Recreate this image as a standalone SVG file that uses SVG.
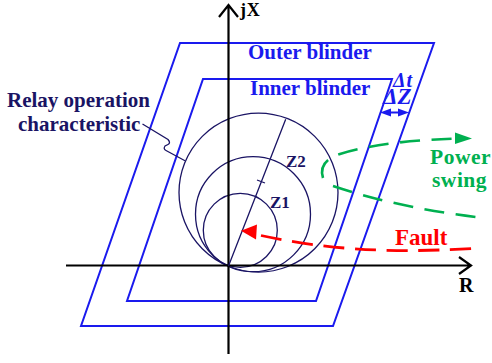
<svg xmlns="http://www.w3.org/2000/svg" width="492" height="363" viewBox="0 0 492 363">
<style>
text{font-family:"Liberation Serif","Times New Roman",serif;font-weight:bold}
.b{fill:none;stroke:#1a1aee;stroke-width:2}
.n{fill:none;stroke:#1a1464;stroke-width:1.3}
.a{fill:none;stroke:#000;stroke-width:2.2}
.g{fill:none;stroke:#00b050;stroke-width:2.6;stroke-dasharray:20 11.5}
.r{fill:none;stroke:#f00;stroke-width:2.8;stroke-dasharray:21 10.7}
.tb{fill:#1a1aee}.tn{fill:#1a1464}.tg{fill:#00b050}.tr{fill:#f00}.tk{fill:#000}
</style>
<rect width="492" height="363" fill="#fff"/>
<g id="outer-blinder"><path class="b" d="M180 43H434L333 326H81Z"/><text class="tb" x="248" y="59" font-size="21">Outer blinder</text></g>
<g id="inner-blinder"><path class="b" d="M203 79H392L316 301H127Z"/><text class="tb" x="250" y="95" font-size="21">Inner blinder</text></g>
<g id="z3"><circle class="n" cx="258.5" cy="192.6" r="79.5"/></g>
<g id="z2"><circle class="n" cx="253" cy="214.2" r="57.5"/><text class="tn" x="286" y="167" font-size="17">Z2</text></g>
<g id="z1"><circle class="n" cx="240.3" cy="230.3" r="37"/><text class="tn" x="270" y="208" font-size="17">Z1</text></g>
<g id="axes">
<path class="a" d="M228.5 5V354M66 265.5H471M219 17L228.5 5L238 17M459 257L471 265.5L459 274"/>
<text class="tk" x="240" y="16" font-size="18" letter-spacing="0.8">jX</text>
<text class="tk" x="459" y="292" font-size="20">R</text>
</g>
<g id="connectors">
<path class="n" stroke-width="1.2" d="M228.5 266L285.7 119.3M257 180L265 183"/>
<path class="n" d="M142.5 124L168 139.5Q171 143 168 144.5L165 146Q163 149 166 150.5L185 160.7"/>
<path class="g" d="M323 178C319 165 328 158 340 154C375 143 420 140 456 138.5"/>
<path class="g" d="M333 186C375 200 420 210 476 217"/>
<path fill="#00b050" d="M455 132.5L472 138.5L455 144Z"/>
<path class="r" d="M261 235.5C320 248 380 254 472 248.5"/>
<path fill="#f00" d="M241 230.7L257 224.5L256 239.5Z"/>
<path fill="none" stroke="#1a1aee" stroke-width="2" d="M386 112.5H403"/>
<path fill="#1a1aee" d="M380 112.5L391 108.5V116.5ZM409 112.5L398 108.5V116.5Z"/>
</g>
<g id="labels">
<text class="tn" x="7" y="107" font-size="21">Relay operation</text>
<text class="tn" x="18" y="131" font-size="21">characteristic</text>
<text class="tb" x="393" y="87" font-size="20" font-style="italic" letter-spacing="1">Δt</text>
<text class="tb" x="383" y="104" font-size="23" font-style="italic">ΔZ</text>
<text class="tg" x="430" y="164" font-size="21.5" letter-spacing="0.5">Power</text>
<text class="tg" x="432" y="187" font-size="21.5" letter-spacing="0.5">swing</text>
<text class="tr" x="395" y="245" font-size="23">Fault</text>
</g>
</svg>
